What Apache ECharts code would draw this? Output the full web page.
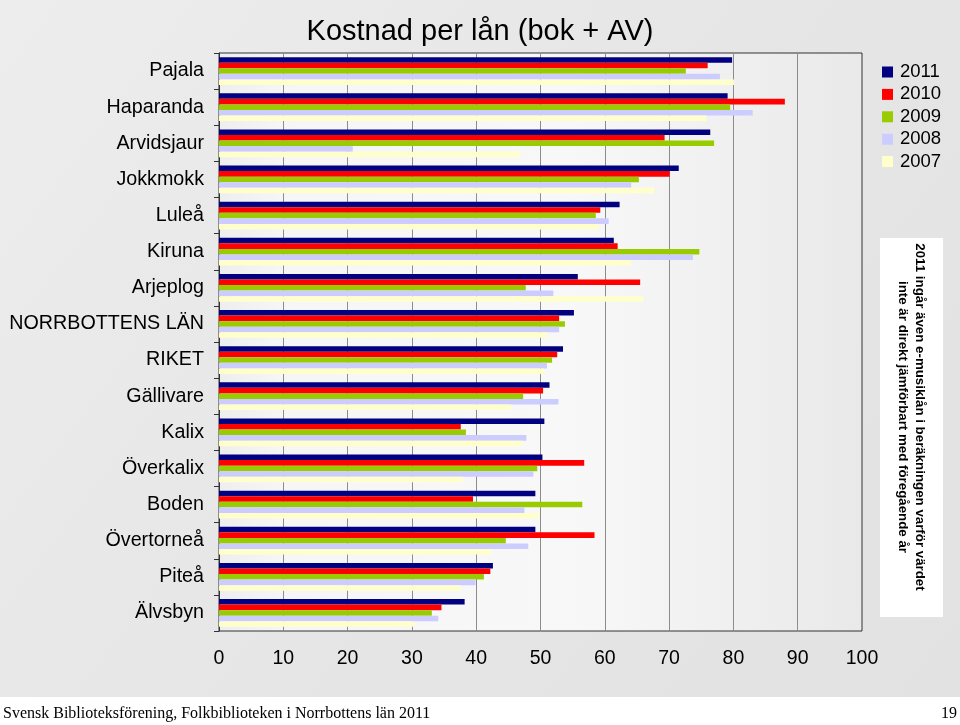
<!DOCTYPE html>
<html>
<head>
<meta charset="utf-8">
<script src="https://cdn.jsdelivr.net/npm/echarts@6/dist/echarts.min.js"></script>
<style>
html,body{margin:0;padding:0;}
#c{width:960px;height:725px;}
</style>
</head>
<body>
<div id="c"></div>
<script>
var categories = ["Pajala","Haparanda","Arvidsjaur","Jokkmokk","Luleå","Kiruna","Arjeplog","NORRBOTTENS LÄN","RIKET","Gällivare","Kalix","Överkalix","Boden","Övertorneå","Piteå","Älvsbyn"];
var years = ["2011","2010","2009","2008","2007"];
var v2011 = [79.8, 79.1, 76.4, 71.5, 62.3, 61.4, 55.8, 55.2, 53.5, 51.4, 50.6, 50.3, 49.2, 49.2, 42.6, 38.2];
var v2010 = [76.0, 88.0, 69.3, 70.1, 59.3, 62.0, 65.5, 52.9, 52.6, 50.4, 37.6, 56.8, 39.5, 58.4, 42.2, 34.6];
var v2009 = [72.6, 79.5, 77.0, 65.3, 58.6, 74.7, 47.7, 53.8, 51.8, 47.3, 38.4, 49.5, 56.5, 44.6, 41.2, 33.1];
var v2008 = [77.9, 83.0, 20.8, 64.1, 60.6, 73.7, 52.0, 52.9, 51.0, 52.8, 47.8, 48.9, 47.5, 48.1, 39.9, 34.1];
var v2007 = [80.1, 75.8, 46.8, 67.7, 59.1, 64.1, 66.0, 51.0, 50.5, 45.4, 47.2, 37.9, 49.8, 42.3, 37.6, 30.3];
var xTicks = [0,10,20,30,40,50,60,70,80,90,100];
var titleText = "Kostnad per lån (bok + AV)";
var noteText = "2011 ingår även e-musiklån i beräkningen varför värdet\ninte är direkt jämförbart med föregående år";
var footerText = "Svensk Biblioteksförening, Folkbiblioteken i Norrbottens län 2011";
var pageText = "19";

var colors = ["#000080","#ff0000","#99cc00","#ccccff","#ffffcc"];
var seriesValues = [v2011, v2010, v2009, v2008, v2007];
var font = "Liberation Sans, Arial, sans-serif";

var chart = echarts.init(document.getElementById('c'));
var series = years.map(function(y, i){
  return {
    name: y, type: 'bar', data: seriesValues[i],
    barGap: '0%', barCategoryGap: '23%',
    itemStyle: {color: colors[i]},
    silent: true, animation: false
  };
});
chart.setOption({
  animation: false,
  backgroundColor: {
    type: 'linear', x: 0, y: 0, x2: 1, y2: 1,
    colorStops: [{offset: 0, color: '#ededed'}, {offset: 0.5, color: '#e6e6e6'}, {offset: 1, color: '#e2e2e2'}]
  },
  title: {
    text: titleText, left: 'center', top: 12,
    textStyle: {fontFamily: font, fontSize: 29, fontWeight: 'normal', color: '#000'}
  },
  legend: {
    orient: 'vertical', left: 882, top: 62, padding: 0,
    itemWidth: 11, itemHeight: 11, itemGap: 2.4, icon: 'rect',
    data: years,
    textStyle: {fontFamily: font, fontSize: 18.5, color: '#000', lineHeight: 20, padding: [0,0,0,2]}
  },
  grid: {
    left: 219, right: 98, top: 53, bottom: 94,
    show: true, borderColor: '#333', borderWidth: 1,
    backgroundColor: {
      type: 'linear', x: 0, y: 0, x2: 1, y2: 0,
      colorStops: [{offset: 0, color: '#eeeeee'}, {offset: 0.1, color: '#f6f6f6'}, {offset: 0.55, color: '#f8f8f8'}, {offset: 1, color: '#e9e9e9'}]
    }
  },
  xAxis: {
    type: 'value', min: 0, max: 100, interval: 10,
    axisLine: {show: false}, axisTick: {show: false},
    splitLine: {show: true, lineStyle: {color: '#8c8c8c', width: 1}},
    axisLabel: {fontFamily: font, fontSize: 19.5, color: '#000', margin: 18,
      formatter: function(v){ return xTicks.indexOf(v) >= 0 ? String(v) : ''; }}
  },
  yAxis: {
    type: 'category', data: categories, inverse: true,
    axisLine: {show: true, lineStyle: {color: '#333', width: 1}},
    axisTick: {show: true, length: 5, lineStyle: {color: '#333'}},
    axisLabel: {fontFamily: font, fontSize: 19.7, color: '#000', margin: 15}
  },
  series: series,
  graphic: [
    {type: 'rect', shape: {x: 0, y: 697, width: 960, height: 28}, style: {fill: '#ffffff'}, silent: true},
    {type: 'text', x: 3, y: 714, style: {text: footerText, fontFamily: 'Liberation Serif, Times New Roman, serif', fontSize: 16, fill: '#000', align: 'left', verticalAlign: 'middle'}, silent: true},
    {type: 'text', x: 957, y: 714, style: {text: pageText, fontFamily: 'Liberation Serif, Times New Roman, serif', fontSize: 16, fill: '#000', align: 'right', verticalAlign: 'middle'}, silent: true},
    {type: 'rect', shape: {x: 880, y: 238, width: 63, height: 379}, style: {fill: '#ffffff'}, silent: true},
    {type: 'text', x: 911.5, y: 417, rotation: -Math.PI/2,
      style: {text: noteText, fontFamily: font, fontSize: 13.3, fontWeight: 'bold', fill: '#000', align: 'center', verticalAlign: 'middle', lineHeight: 17}, silent: true}
  ]
});
</script>
</body>
</html>
